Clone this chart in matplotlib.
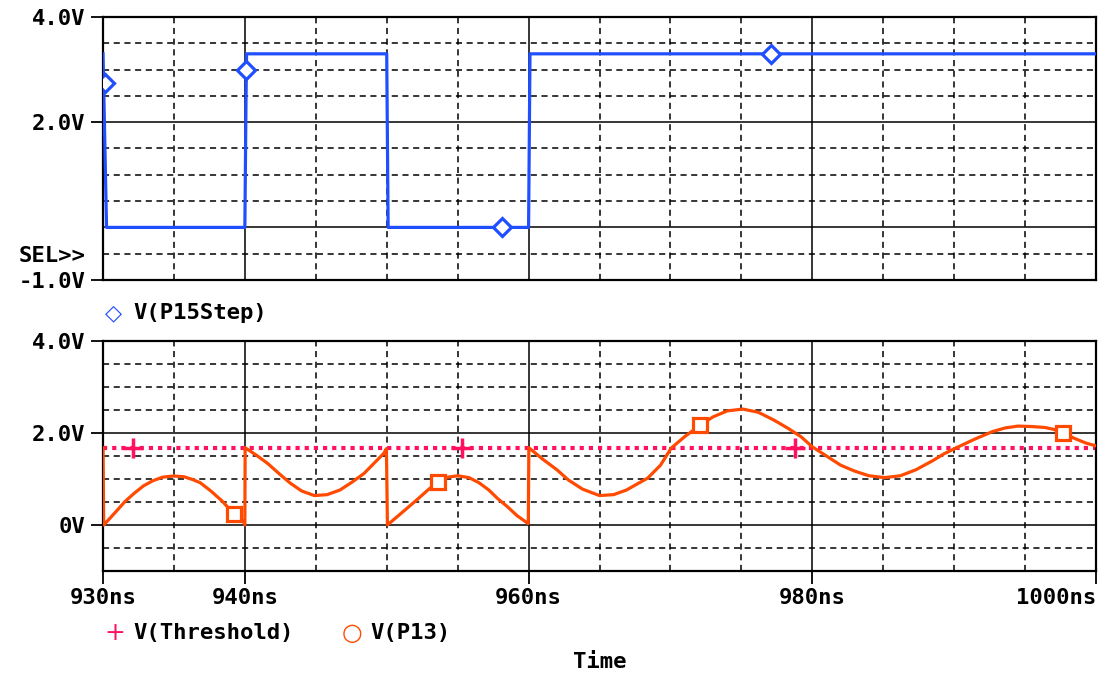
import matplotlib
matplotlib.use('Agg')

import matplotlib.pyplot as plt

# V(P15Step) - digital step signal
step_t = [930.0, 930.25, 940.0, 940.08, 940.12, 950.0, 950.1, 960.0, 960.1, 1000.0]
step_v = [3.3, 0.0, 0.0, 2.4, 3.3, 3.3, 0.0, 0.0, 3.3, 3.3]
step_mark_t = [930.15, 940.1, 958.1, 977.1]
step_mark_v = [2.75, 3.0, 0.0, 3.3]

# V(Threshold)
thr_t = [930.0, 1000.0]
thr_v = [1.68, 1.68]
thr_mark_t = [932.1, 955.3, 978.8]

# V(P13)
p13_t = [930.0, 930.05, 930.5, 931.0, 931.55, 932.2, 932.85, 933.5, 934.2, 934.97, 935.7, 936.3,
         936.85, 937.6, 938.4, 939.2, 939.9, 940.0,
         940.02, 940.8, 941.6, 942.4, 943.2, 944.0, 944.9, 945.8, 946.7, 947.5, 948.4, 949.1,
         949.8, 949.98,
         950.05, 951.0, 952.1, 952.9, 953.6, 954.3, 955.0, 955.8, 956.5, 957.2, 957.8, 958.5,
         959.2, 959.98,
         960.02, 961.0, 962.0, 962.8, 963.8, 965.0, 966.0, 966.9, 967.7, 968.4, 969.3, 970.05,
         971.0, 972.1, 973.0, 974.0, 975.1, 976.2, 977.3, 978.3, 979.2, 980.0, 981.0, 982.0,
         983.0, 984.0, 985.1, 986.2, 987.3, 988.5, 989.3, 990.1, 991.4, 992.7, 993.6, 994.5,
         995.5, 996.4, 997.0, 997.7, 998.5, 999.3, 1000.0]
p13_v = [1.68, 0.0, 0.15, 0.32, 0.51, 0.69, 0.85, 0.96, 1.04, 1.065, 1.05, 0.99,
         0.92, 0.74, 0.52, 0.25, 0.08, 0.0,
         1.68, 1.52, 1.34, 1.12, 0.91, 0.74, 0.64, 0.66, 0.76, 0.92, 1.12, 1.34,
         1.56, 1.66,
         0.0, 0.25, 0.54, 0.76, 0.94, 1.04, 1.07, 1.03, 0.92, 0.76, 0.58, 0.4,
         0.2, 0.03,
         1.68, 1.43, 1.2, 0.98, 0.78, 0.64, 0.66, 0.76, 0.9, 1.02, 1.3, 1.67,
         1.92, 2.17, 2.35, 2.48, 2.52, 2.45, 2.28, 2.1, 1.92, 1.70, 1.5, 1.3,
         1.17, 1.07, 1.03, 1.07, 1.2, 1.4, 1.55, 1.67, 1.86, 2.03, 2.11, 2.15,
         2.14, 2.12, 2.08, 2.0, 1.88, 1.78, 1.72]
p13_mark_t = [939.2, 953.6, 972.1, 997.7]
p13_mark_v = [0.25, 0.94, 2.17, 2.0]

x_major = [930, 940, 960, 980, 1000]
x_labels = ['930ns', '940ns', '960ns', '980ns', '1000ns']

BLUE = '#1f4fff'
ORANGE = '#ff4a00'
PINK = '#ff1060'
FONT = dict(family='DejaVu Sans Mono', weight='bold', size=16)

fig = plt.figure(figsize=(10.99, 6.74), dpi=100)
ax1 = fig.add_axes([103 / 1099, 1 - 280 / 674, 993 / 1099, 263 / 674])
ax2 = fig.add_axes([103 / 1099, 1 - 571 / 674, 993 / 1099, 230 / 674])


def grid(ax):
    ax.set_xlim(930, 1000)
    ax.set_ylim(-1, 4)
    for x in range(935, 1000, 5):
        ls = '-' if x in x_major else (0, (4, 3))
        ax.axvline(x, color='black', lw=1.1, ls=ls, zorder=1)
    for y in [-0.5, 0.5, 1.0, 1.5, 2.5, 3.0, 3.5]:
        ax.axhline(y, color='black', lw=1.1, ls=(0, (4, 3)), zorder=1)
    for y in [0, 2]:
        ax.axhline(y, color='black', lw=1.1, zorder=1)
    for s in ax.spines.values():
        s.set_linewidth(1.6)
    ax.tick_params(length=9, width=1.3, direction='out')


grid(ax1)
grid(ax2)

# top plot
ax1.plot(step_t, step_v, color=BLUE, lw=2.3, zorder=3)
ax1.plot(step_mark_t, step_mark_v, ls='none', marker='D', ms=9, mfc='white', mec=BLUE, mew=2.3, zorder=4)
ax1.set_yticks([4, 2, -0.5, -1])
ax1.set_yticklabels(['4.0V', '2.0V', 'SEL>>', '-1.0V'], fontdict=FONT)
ax1.yaxis.get_major_ticks()[2].tick1line.set_visible(False)
ax1.set_xticks(x_major)
ax1.set_xticklabels([])
ax1.tick_params(axis='x', length=0)

# bottom plot
ax2.plot(thr_t, thr_v, color=PINK, lw=3, ls=(0, (1, 1.2)), zorder=2)
ax2.plot(thr_mark_t, thr_v[:1] * len(thr_mark_t), ls='none', marker='+', ms=14, mec=PINK, mew=2.5, zorder=4)
ax2.plot(p13_t, p13_v, color=ORANGE, lw=2.3, zorder=3)
ax2.plot(p13_mark_t, p13_mark_v, ls='none', marker='s', ms=10, mfc='white', mec=ORANGE, mew=2.3, zorder=4)
ax2.set_yticks([4, 2, 0])
ax2.set_yticklabels(['4.0V', '2.0V', '0V'], fontdict=FONT)
ax2.set_xticks(x_major)
ax2.set_xticklabels(x_labels, fontdict=FONT)
ax2.xaxis.get_majorticklabels()[-1].set_horizontalalignment('right')
ax2.xaxis.get_majorticklabels()[-1].set_x(1000)

# legends
fig.text(105 / 1099, 1 - 313 / 674, '\u25c7', color=BLUE, fontsize=16, va='center')
fig.text(133 / 1099, 1 - 313 / 674, 'V(P15Step)', va='center', **FONT)
fig.text(104 / 1099, 1 - 633 / 674, '+', color=PINK, fontsize=18, va='center')
fig.text(133 / 1099, 1 - 633 / 674, 'V(Threshold)', va='center', **FONT)
fig.text(342 / 1099, 1 - 633 / 674, '\u25cb', color=ORANGE, fontsize=17, va='center')
fig.text(370 / 1099, 1 - 633 / 674, 'V(P13)', va='center', **FONT)
fig.text(600 / 1099, 1 - 662 / 674, 'Time', ha='center', va='center', **FONT)

fig.savefig('out.png', dpi=100)
